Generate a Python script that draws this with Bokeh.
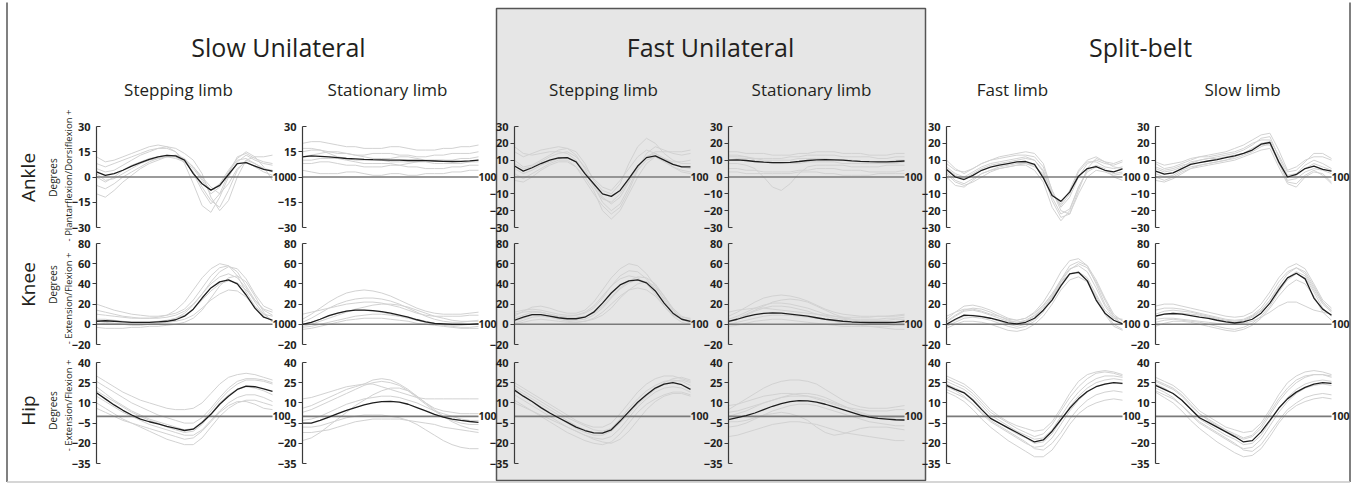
from bokeh.plotting import figure
from bokeh.models import Range1d, LinearAxis, FixedTicker, Label
from bokeh.core.properties import value
from bokeh.embed import file_html
from bokeh.resources import INLINE
import math

# ---------------- data ----------------
PCT = [0, 5, 10, 15, 20, 25, 30, 35, 40, 45, 50, 55, 60, 65, 70, 75, 80, 85, 90, 95, 100]
X_END_LABEL = "100"

GROUP_TITLES = ["Slow Unilateral", "Fast Unilateral", "Split-belt"]
LIMB_TITLES = ["Stepping limb", "Stationary limb", "Stepping limb", "Stationary limb", "Fast limb", "Slow limb"]
JOINTS = ["Ankle", "Knee", "Hip"]
JOINT_UNIT = "Degrees"
JOINT_SENSE = ["- Plantarflexion/Dorsiflexion +", "- Extension/Flexion +", "- Extension/Flexion +"]

ANKLE_TICKS_SLOW = [-30, -15, 0, 15, 30]
ANKLE_TICKS = [-30, -20, -10, 0, 10, 20, 30]
KNEE_TICKS = [-20, 0, 20, 40, 60, 80]
HIP_TICKS = [-35, -20, -5, 10, 25, 40]

# ---- Ankle ----
ANKLE_SLOW_STEP_MEAN = [3, 1, 2, 4, 6.5, 8.5, 10.5, 12, 12.8, 12.5, 10, 2, -4, -7.8, -5, 1.5, 8, 8.5, 6.5, 4.5, 3.5]
ANKLE_SLOW_STEP_TRIALS = [
    [8, 6, 8, 10, 12, 14, 16, 17, 17, 15, 10, 2, -8, -16, -10, 2, 12, 14, 11, 9, 8],
    [-5, -7, -4, 0, 3, 6, 9, 11, 12, 12, 9, 3, -6, -14, -18, -8, 4, 10, 8, 5, 3],
    [12, 9, 10, 12, 14, 16, 18, 19, 18, 15, 8, -4, -17, -21, -12, 0, 9, 13, 10, 8, 7],
    [2, -2, -1, 2, 5, 8, 10, 11, 12, 11, 9, 5, -2, -10, -6, 3, 10, 11, 8, 5, 4],
    [-10, -12, -8, -3, 1, 5, 8, 10, 12, 13, 11, 6, 0, -6, -10, -4, 5, 9, 6, 3, 1],
    [5, 3, 4, 7, 10, 13, 15, 17, 18, 17, 14, 10, 2, -12, -20, -14, 0, 10, 12, 12, 13],
    [0, -3, 0, 4, 7, 9, 11, 12, 13, 12, 10, 6, -1, -8, -4, 4, 11, 15, 12, 6, -2],
]
ANKLE_SLOW_STAT_MEAN = [12, 12.5, 12.3, 12, 11.5, 11, 10.8, 10.5, 10.3, 10.2, 10, 10, 9.8, 9.8, 9.7, 9.5, 9.3, 9.2, 9.3, 9.6, 10]
ANKLE_SLOW_STAT_TRIALS = [
    [20, 21, 21, 20, 19, 18, 18, 17, 17, 17, 18, 18, 17, 16, 16, 16, 17, 17, 18, 18, 19],
    [15, 16, 16, 15, 14, 14, 13, 13, 14, 14, 14, 13, 13, 12, 12, 13, 13, 14, 14, 14, 15],
    [8, 8, 9, 9, 8, 7, 7, 6, 6, 6, 7, 7, 6, 6, 5, 5, 5, 6, 6, 7, 7],
    [4, 3, 2, 2, 2, 3, 3, 2, 1, 1, 2, 2, 1, 1, 2, 2, 2, 3, 3, 4, 4],
    [12, 13, 14, 15, 15, 14, 13, 12, 11, 11, 11, 12, 12, 11, 10, 10, 10, 10, 11, 11, 12],
    [17, 17, 16, 14, 12, 11, 10, 10, 10, 10, 9, 9, 9, 9, 9, 8, 8, 8, 8, 9, 9],
    [10, 10, 11, 11, 11, 10, 9, 8, 8, 8, 8, 7, 8, 9, 10, 10, 10, 9, 9, 9, 10],
]
ANKLE_FAST_STEP_MEAN = [6.5, 3.5, 5.5, 8, 10, 11.3, 11.5, 9, 2, -4, -10, -11.5, -8, -1, 6.5, 11.5, 12.5, 10, 7.5, 6, 6]
ANKLE_FAST_STEP_TRIALS = [
    [15, 12, 14, 16, 17, 18, 17, 13, 5, -5, -15, -20, -16, -6, 5, 14, 18, 16, 14, 13, 14],
    [2, -1, 2, 5, 8, 10, 10, 6, -2, -10, -17, -22, -18, -8, 4, 10, 12, 9, 6, 4, 3],
    [10, 6, 7, 10, 13, 16, 17, 15, 8, -2, -8, -10, -4, 8, 18, 23, 20, 14, 10, 8, 8],
    [5, 2, 4, 7, 9, 11, 11, 9, 3, -4, -12, -16, -12, -3, 6, 12, 14, 11, 8, 6, 5],
    [18, 14, 13, 14, 15, 15, 14, 10, 3, -6, -13, -15, -10, -2, 6, 12, 15, 15, 15, 15, 16],
    [-2, -3, 0, 4, 7, 9, 9, 6, 0, -8, -20, -25, -20, -10, 0, 8, 12, 10, 6, 3, 2],
    [8, 5, 6, 9, 12, 14, 15, 12, 6, -1, -6, -8, -2, 5, 12, 16, 14, 11, 9, 9, 10],
]
ANKLE_FAST_STAT_MEAN = [10, 10.2, 9.8, 9.2, 8.8, 8.5, 8.5, 8.7, 9.2, 9.8, 10.2, 10.3, 10.2, 10, 9.6, 9.3, 9.1, 9, 9, 9.2, 9.5]
ANKLE_FAST_STAT_TRIALS = [
    [15, 15, 14, 14, 14, 13, 13, 13, 14, 14, 15, 15, 15, 14, 14, 14, 13, 13, 13, 14, 14],
    [12, 12, 12, 11, 11, 11, 11, 12, 12, 13, 13, 13, 13, 12, 12, 12, 12, 11, 11, 12, 12],
    [5, 5, 4, 4, 3, 3, 3, 3, 4, 4, 5, 5, 5, 4, 4, 4, 3, 3, 3, 3, 4],
    [8, 8, 7, 5, 0, -6, -8, -4, 2, 6, 7, 7, 7, 7, 6, 6, 6, 6, 7, 7, 7],
    [10, 11, 11, 11, 10, 10, 10, 10, 11, 11, 11, 11, 10, 10, 10, 9, 9, 9, 9, 10, 10],
    [13, 13, 12, 10, 9, 8, 8, 8, 8, 9, 9, 9, 9, 8, 8, 8, 8, 8, 8, 8, 9],
    [3, 3, 2, 2, 2, 2, 2, 2, 3, 3, 3, 2, 2, 1, 1, 1, 1, 2, 2, 2, 2],
]
ANKLE_SPLIT_FAST_MEAN = [4.5, 0, -1.5, 1, 4, 5.8, 7, 8, 9, 9.2, 7.5, -0.5, -11, -14.5, -9, 0.5, 5, 6.2, 4, 3, 4.8]
ANKLE_SPLIT_FAST_TRIALS = [
    [10, 5, 2, 5, 8, 10, 12, 13, 14, 15, 14, 8, -8, -18, -12, 0, 8, 10, 8, 7, 9],
    [0, -5, -6, -2, 2, 4, 5, 6, 7, 8, 6, 2, -14, -24, -22, -10, 0, 4, 3, 1, 2],
    [6, 2, 0, 3, 6, 8, 9, 10, 11, 12, 10, 4, -10, -17, -10, 3, 9, 9, 6, 5, 6],
    [3, -2, -4, -1, 2, 4, 6, 7, 8, 8, 7, 1, -12, -22, -19, -6, 3, 6, 4, 2, 3],
    [8, 4, 3, 5, 8, 10, 11, 12, 13, 13, 12, 6, -8, -20, -22, -8, 5, 11, 9, 8, 10],
    [2, -3, -5, -3, 0, 3, 5, 6, 7, 7, 4, -3, -18, -26, -20, -6, 4, 7, 5, 0, -2],
    [5, 1, -1, 2, 5, 7, 8, 9, 10, 11, 10, 3, -10, -16, -8, 4, 10, 12, 9, 6, 5],
]
ANKLE_SPLIT_SLOW_MEAN = [3.5, 1.7, 2.5, 5, 7.5, 8.5, 9.5, 10.3, 11.5, 12.5, 14, 16, 19.5, 20.5, 9, 0, 1.5, 5, 6.5, 4.5, 3.5]
ANKLE_SPLIT_SLOW_TRIALS = [
    [8, 5, 6, 8, 10, 12, 13, 14, 15, 17, 19, 22, 25, 26, 16, 4, 6, 10, 12, 12, 10],
    [-2, -3, -1, 2, 5, 6, 7, 8, 9, 10, 12, 14, 16, 17, 6, -4, -6, 0, 3, 2, -3],
    [5, 3, 4, 6, 9, 10, 11, 12, 13, 14, 16, 19, 23, 24, 12, 1, 2, 7, 10, 8, 5],
    [2, 0, 1, 4, 6, 7, 8, 9, 10, 11, 13, 15, 18, 20, 8, -2, -1, 3, 5, 4, 2],
    [9, 7, 8, 9, 11, 12, 12, 13, 14, 15, 17, 20, 22, 22, 13, 3, 4, 9, 14, 14, 11],
    [0, -2, 0, 3, 5, 7, 8, 9, 10, 12, 14, 17, 19, 19, 9, -3, -4, 1, 4, 1, -4],
    [6, 4, 5, 7, 8, 10, 11, 11, 12, 13, 14, 17, 20, 21, 10, 0, 1, 5, 8, 6, 4],
]

# ---- Knee ----
KNEE_SLOW_STEP_MEAN = [3, 3.5, 3, 2.5, 2, 2, 2, 2.5, 3, 4.5, 8, 15, 26, 36, 42, 44, 40, 29, 16, 7, 4]
KNEE_SLOW_STEP_TRIALS = [
    [20, 17, 14, 12, 10, 9, 8, 8, 9, 11, 15, 24, 36, 48, 56, 58, 52, 38, 24, 15, 12],
    [-3, -4, -4, -4, -3, -3, -2, -2, -1, 0, 2, 6, 14, 26, 38, 46, 48, 42, 28, 12, 2],
    [10, 9, 8, 7, 6, 6, 6, 7, 9, 14, 22, 34, 46, 55, 60, 58, 48, 32, 18, 10, 8],
    [5, 5, 4, 3, 2, 2, 2, 3, 4, 6, 9, 15, 24, 33, 40, 43, 41, 34, 24, 14, 9],
    [0, 1, 1, 0, 0, 0, 0, 1, 2, 3, 5, 9, 16, 24, 30, 34, 33, 27, 17, 8, 3],
    [14, 12, 10, 8, 7, 6, 6, 6, 7, 9, 13, 20, 30, 42, 52, 57, 55, 45, 30, 18, 14],
    [3, 2, 1, 0, -1, -1, 0, 1, 3, 6, 11, 19, 30, 40, 47, 50, 46, 36, 22, 10, 4],
]
KNEE_SLOW_STAT_MEAN = [0, 2, 5, 8.5, 11, 13, 14, 14, 13.5, 12.5, 11, 9, 7, 4.5, 2.5, 1, 0.5, 0, 0, 0, 0.5]
KNEE_SLOW_STAT_TRIALS = [
    [5, 10, 16, 22, 27, 31, 33, 34, 33, 31, 28, 24, 20, 16, 13, 11, 10, 10, 10, 11, 12],
    [-2, 0, 3, 6, 9, 12, 15, 17, 19, 20, 20, 19, 17, 14, 11, 8, 6, 4, 3, 3, 3],
    [2, 6, 11, 16, 20, 23, 25, 26, 26, 25, 23, 20, 16, 12, 8, 5, 3, 2, 2, 3, 4],
    [-5, -4, -2, 0, 2, 4, 5, 6, 6, 6, 5, 4, 3, 1, 0, -1, -2, -3, -4, -4, -4],
    [10, 12, 14, 16, 18, 20, 21, 22, 22, 21, 19, 17, 14, 11, 9, 8, 8, 8, 8, 9, 9],
    [0, 2, 5, 8, 11, 13, 14, 14, 13, 12, 10, 8, 6, 4, 2, 1, 0, -1, -1, 0, 1],
    [-3, -2, 0, 2, 4, 6, 8, 9, 10, 10, 9, 8, 7, 5, 3, 1, -1, -2, -3, -3, -2],
]
KNEE_FAST_STEP_MEAN = [4, 7, 9.5, 9.5, 8, 6.5, 5.5, 5.5, 7, 12, 21, 31, 39, 43, 44, 41, 33, 21, 11, 5, 3]
KNEE_FAST_STEP_TRIALS = [
    [8, 13, 17, 18, 16, 13, 11, 11, 14, 22, 34, 46, 55, 60, 58, 50, 38, 24, 12, 5, 3],
    [0, 2, 4, 5, 4, 3, 2, 2, 3, 6, 12, 20, 28, 34, 36, 34, 28, 18, 8, 2, 0],
    [12, 14, 15, 14, 12, 10, 9, 9, 11, 16, 26, 38, 48, 53, 52, 45, 34, 22, 12, 7, 6],
    [3, 6, 9, 9, 8, 6, 4, 4, 5, 9, 16, 26, 35, 41, 44, 42, 36, 26, 14, 6, 2],
    [6, 9, 12, 12, 10, 8, 7, 7, 8, 11, 18, 27, 36, 43, 47, 46, 40, 28, 16, 8, 5],
    [1, 4, 7, 8, 7, 5, 3, 2, 3, 5, 9, 16, 26, 34, 40, 42, 38, 28, 15, 5, 1],
    [10, 12, 13, 12, 10, 8, 8, 9, 12, 18, 28, 38, 45, 48, 46, 40, 30, 18, 9, 5, 4],
]
KNEE_FAST_STAT_MEAN = [3, 5, 7.5, 9.5, 10.8, 11.3, 11, 10, 9, 8, 6.5, 5, 4, 3, 2.3, 2, 1.8, 1.8, 1.8, 2, 3]
KNEE_FAST_STAT_TRIALS = [
    [8, 12, 17, 22, 26, 28, 29, 28, 26, 23, 19, 15, 12, 10, 9, 8, 8, 8, 8, 8, 9],
    [2, 5, 9, 13, 16, 18, 18, 17, 15, 13, 10, 8, 6, 5, 4, 4, 4, 4, 4, 5, 5],
    [-2, -1, 1, 3, 4, 5, 5, 4, 3, 2, 1, 0, -1, -2, -2, -2, -2, -2, -2, -1, -1],
    [5, 8, 12, 16, 19, 21, 21, 20, 18, 16, 13, 10, 8, 6, 5, 5, 5, 5, 6, 6, 7],
    [0, 2, 4, 6, 8, 9, 9, 9, 8, 7, 6, 5, 3, 1, 0, -1, -2, -3, -4, -5, -5],
    [12, 14, 15, 16, 16, 15, 14, 13, 12, 11, 10, 9, 8, 7, 7, 7, 7, 8, 8, 9, 10],
    [3, 6, 10, 14, 18, 22, 24, 25, 24, 22, 18, 14, 10, 7, 5, 3, 2, 2, 2, 2, 3],
]
KNEE_SPLIT_FAST_MEAN = [0, 5, 9, 8.5, 7.5, 6, 4, 1.5, 0.5, 2, 6, 14, 24, 38, 50, 51.5, 43, 24, 11, 4, 0.5]
KNEE_SPLIT_FAST_TRIALS = [
    [5, 12, 18, 19, 17, 14, 10, 6, 4, 6, 12, 22, 36, 52, 63, 65, 58, 40, 20, 8, 4],
    [-4, 0, 3, 3, 2, 0, -3, -6, -7, -5, 0, 8, 20, 34, 44, 47, 42, 28, 12, 0, -5],
    [2, 8, 13, 14, 12, 9, 6, 3, 2, 4, 9, 18, 30, 44, 55, 58, 52, 36, 18, 6, 1],
    [0, 4, 8, 9, 8, 6, 3, 0, -2, 0, 5, 14, 27, 42, 54, 60, 56, 42, 24, 8, 0],
    [8, 12, 15, 15, 13, 10, 8, 5, 4, 6, 11, 19, 30, 42, 50, 52, 46, 30, 14, 6, 5],
    [-2, 2, 6, 7, 6, 4, 1, -2, -4, -2, 3, 12, 26, 40, 50, 52, 44, 26, 10, -2, -6],
    [3, 9, 14, 16, 15, 12, 8, 4, 2, 3, 8, 16, 28, 44, 58, 62, 58, 44, 26, 10, 3],
]
KNEE_SPLIT_SLOW_MEAN = [8, 10, 10.7, 10, 8.5, 7, 5.8, 4, 2.5, 1.3, 2.5, 5, 11, 21, 34, 46, 50.5, 45, 26, 15, 9]
KNEE_SPLIT_SLOW_TRIALS = [
    [18, 20, 20, 18, 16, 14, 12, 10, 8, 7, 8, 12, 20, 32, 46, 56, 60, 55, 40, 24, 16],
    [2, 4, 5, 4, 3, 2, 0, -2, -4, -5, -3, 1, 8, 18, 32, 44, 50, 46, 32, 16, 8],
    [10, 13, 14, 13, 12, 10, 8, 6, 4, 3, 4, 8, 14, 24, 36, 46, 52, 48, 34, 20, 12],
    [5, 6, 6, 5, 4, 3, 2, 1, 0, 0, 1, 3, 7, 12, 18, 22, 22, 18, 14, 12, 10],
    [14, 16, 16, 15, 13, 11, 9, 7, 5, 4, 5, 9, 16, 28, 42, 52, 56, 50, 36, 22, 14],
    [-2, 1, 3, 3, 2, 0, -2, -4, -6, -7, -5, -1, 6, 16, 28, 38, 44, 40, 28, 12, 4],
    [8, 10, 11, 11, 10, 9, 7, 5, 3, 2, 3, 7, 13, 24, 38, 50, 56, 52, 38, 22, 13],
]

# ---- Hip ----
HIP_SLOW_STEP_MEAN = [17.5, 13, 8.5, 4.5, 1, -2, -4, -5.5, -7.5, -9, -10.5, -9.5, -4.5, 1.5, 9, 15, 20, 22.5, 22, 20.5, 18.5]
HIP_SLOW_STEP_TRIALS = [
    [30, 26, 22, 18, 15, 12, 10, 8, 6, 5, 5, 6, 10, 17, 24, 29, 31, 32, 31, 29, 27],
    [10, 6, 2, -2, -5, -8, -11, -14, -17, -19, -21, -21, -16, -8, 0, 6, 10, 12, 12, 10, 8],
    [22, 17, 12, 8, 4, 1, -2, -4, -6, -8, -10, -9, -4, 4, 12, 19, 24, 27, 27, 26, 24],
    [15, 11, 7, 3, 0, -3, -6, -8, -10, -12, -14, -14, -10, -3, 4, 10, 14, 16, 16, 14, 11],
    [26, 22, 18, 14, 10, 7, 4, 1, -1, -3, -5, -5, -1, 6, 14, 21, 26, 28, 28, 27, 25],
    [6, 3, 0, -3, -5, -7, -9, -11, -13, -15, -17, -16, -11, -4, 3, 8, 11, 11, 9, 6, 5],
    [19, 15, 11, 7, 3, 0, -3, -5, -8, -10, -12, -11, -6, 2, 10, 16, 20, 22, 21, 19, 16],
]
HIP_SLOW_STAT_MEAN = [-5, -5, -3, -0.5, 2, 4.5, 6.5, 8.5, 10, 11, 11.2, 10.5, 9, 6.5, 4, 1.5, -0.5, -2, -3, -3.8, -4.5]
HIP_SLOW_STAT_TRIALS = [
    [13, 14, 16, 18, 20, 22, 23, 24, 24, 22, 20, 18, 16, 14, 13, 13, 13, 13, 13, 13, 13],
    [-18, -16, -12, -7, -2, 3, 8, 12, 16, 19, 21, 21, 19, 15, 10, 5, 0, -4, -7, -9, -10],
    [3, 5, 8, 11, 14, 17, 20, 23, 25, 26, 25, 23, 19, 14, 9, 4, 0, -3, -5, -6, -6],
    [-8, -8, -7, -5, -3, -1, 0, 1, 1, 1, 0, -1, -3, -6, -10, -14, -18, -21, -23, -24, -24],
    [-3, -2, 0, 3, 6, 9, 11, 13, 14, 15, 15, 14, 12, 10, 7, 4, 2, 0, -2, -3, -3],
    [-12, -12, -11, -10, -8, -6, -4, -3, -2, -2, -2, -2, -3, -4, -5, -6, -8, -9, -10, -11, -12],
    [6, 8, 11, 14, 17, 20, 22, 24, 27, 28, 27, 24, 20, 15, 10, 6, 4, 3, 2, 2, 2],
]
HIP_FAST_STEP_MEAN = [19.5, 15, 11, 6.5, 2.5, -1, -4.5, -8, -10.5, -12.2, -12.5, -10, -3.5, 3.5, 10.5, 16, 21, 24, 25, 23.5, 20]
HIP_FAST_STEP_TRIALS = [
    [25, 21, 17, 13, 9, 5, 1, -3, -6, -8, -8, -5, 2, 10, 18, 24, 28, 30, 30, 28, 26],
    [12, 8, 4, 0, -4, -8, -12, -15, -18, -20, -21, -19, -13, -5, 3, 9, 13, 16, 18, 18, 16],
    [21, 17, 13, 9, 5, 1, -3, -7, -10, -12, -12, -9, -2, 6, 13, 19, 23, 26, 27, 26, 23],
    [16, 12, 8, 4, 0, -4, -8, -11, -14, -16, -17, -15, -9, -1, 7, 13, 18, 21, 22, 21, 18],
    [23, 19, 15, 11, 7, 3, -1, -4, -7, -10, -11, -9, -4, 3, 10, 16, 21, 25, 28, 29, 27],
    [10, 7, 4, 1, -2, -5, -8, -11, -14, -17, -19, -20, -17, -11, -3, 5, 11, 15, 17, 17, 15],
    [19, 15, 11, 7, 3, -1, -5, -9, -12, -14, -14, -11, -5, 2, 9, 15, 20, 24, 26, 27, 25],
]
HIP_FAST_STAT_MEAN = [-2.5, -1, 0.5, 2.5, 5, 7.5, 9.5, 11, 11.7, 11.5, 10.5, 9, 7, 5, 3, 1, -0.5, -1.5, -2, -2.5, -2.7]
HIP_FAST_STAT_TRIALS = [
    [5, 9, 13, 17, 21, 24, 26, 27, 27, 26, 24, 20, 16, 12, 9, 7, 6, 6, 6, 7, 8],
    [-15, -14, -12, -10, -8, -6, -5, -4, -4, -5, -6, -8, -10, -12, -13, -14, -15, -16, -17, -18, -18],
    [0, 2, 4, 7, 10, 12, 14, 15, 15, 15, 14, 12, 10, 8, 5, 3, 1, 0, -1, -1, -1],
    [-8, -7, -5, -2, 1, 4, 6, 8, 9, 9, 8, 6, 4, 2, 0, -2, -4, -5, -6, -7, -7],
    [3, 4, 6, 8, 10, 12, 14, 16, 17, 17, 16, 14, 11, 8, 5, 2, 0, -1, -2, -3, -3],
    [-4, -4, -3, -1, 1, 2, 3, 2, 0, -3, -8, -12, -14, -13, -11, -9, -8, -8, -8, -9, -10],
    [8, 9, 11, 13, 15, 16, 17, 17, 16, 15, 13, 11, 9, 7, 6, 5, 4, 4, 4, 5, 5],
]
HIP_SPLIT_FAST_MEAN = [23, 20, 17.5, 12, 5, -1.5, -5, -8.5, -12, -15.5, -19, -17.5, -11, -2.5, 6, 13, 18.5, 22, 24, 25, 24.5]
HIP_SPLIT_FAST_TRIALS = [
    [30, 27, 24, 19, 12, 5, 0, -4, -7, -9, -11, -10, -4, 6, 17, 26, 31, 33, 34, 33, 31],
    [18, 15, 11, 5, -2, -8, -13, -18, -22, -26, -30, -30, -25, -16, -6, 2, 7, 10, 12, 13, 12],
    [26, 23, 20, 15, 8, 1, -3, -7, -11, -14, -17, -16, -10, 0, 10, 18, 24, 28, 30, 30, 29],
    [22, 19, 15, 9, 2, -4, -8, -12, -16, -20, -23, -22, -16, -6, 4, 12, 18, 22, 24, 25, 24],
    [28, 25, 22, 17, 10, 3, -1, -5, -9, -12, -15, -13, -6, 4, 14, 22, 28, 32, 33, 32, 30],
    [20, 17, 14, 9, 3, -3, -7, -11, -15, -19, -24, -25, -20, -12, -2, 6, 12, 16, 18, 19, 18],
    [24, 21, 18, 13, 6, -1, -5, -9, -13, -16, -20, -19, -13, -3, 7, 15, 21, 25, 27, 28, 27],
]
HIP_SPLIT_SLOW_MEAN = [23, 20, 17, 12, 5.5, -1, -4.5, -8, -11.5, -15, -19, -18, -11.5, -3, 6, 13, 18, 21.5, 24, 25, 24.5]
HIP_SPLIT_SLOW_TRIALS = [
    [29, 26, 23, 18, 11, 4, 0, -4, -8, -10, -12, -11, -5, 5, 16, 25, 30, 33, 34, 33, 31],
    [18, 14, 10, 4, -3, -9, -14, -19, -23, -27, -30, -29, -24, -15, -5, 3, 8, 11, 13, 14, 13],
    [27, 24, 21, 16, 9, 2, -3, -7, -11, -14, -17, -15, -9, 1, 11, 19, 25, 29, 31, 31, 30],
    [21, 18, 14, 8, 1, -5, -9, -13, -17, -21, -24, -23, -17, -7, 3, 11, 17, 21, 23, 24, 23],
    [26, 23, 20, 15, 8, 2, -2, -6, -10, -13, -16, -14, -7, 3, 13, 21, 27, 30, 31, 31, 29],
    [19, 16, 13, 8, 2, -4, -8, -12, -16, -20, -25, -26, -21, -12, -3, 5, 10, 14, 16, 17, 16],
    [24, 21, 17, 12, 5, -2, -6, -10, -14, -17, -21, -20, -14, -4, 6, 14, 20, 24, 26, 27, 26],
]

# ---------------- layout (screen pixels) ----------------
W, H = 1357, 483
AXIS_X = [96, 302, 514, 728, 946, 1155]     # left edge (0 %) of each column
PANEL_W = 176                                # width of 0..100 %
ROW_SPANS = [(30, -30, 126, 227), (80, -20, 243, 344), (40, -35, 362, 463)]  # (top value, bottom value, top px, bottom px)

TEXT = "#231f20"
AXIS_COLOR = "#3a3a3a"
TRIAL_COLOR = "#d2d2d2"
MEAN_COLOR = "#1e1e1e"
ZERO_COLOR = "#7a7a7a"
FONT = "Open Sans"
TICK_FS = "11px"
END_FS = "10.5px"

p = figure(width=W, height=H, x_range=Range1d(0, W), y_range=Range1d(H, 0),
           x_axis_type=None, y_axis_type=None, output_backend="svg",
           toolbar_location=None, min_border=0)
p.outline_line_color = None
p.grid.visible = False
p.background_fill_color = "white"
p.border_fill_color = "white"

# grey box for the "Fast Unilateral" group and outer frame lines
p.quad(left=[496], right=[925], top=[8], bottom=[480], fill_color="#e6e6e6",
       line_color="#555555", line_width=1.5)
p.segment(x0=[6.5, 1349.5, 6.5], y0=[2, 2, 481.5], x1=[6.5, 1349.5, 1349.5], y1=[481.5, 481.5, 481.5],
          line_color=["#3c3c3c", "#3c3c3c", "#c8c8c8"], line_width=1.3)

# panel ranges
for c, ax0 in enumerate(AXIS_X):
    k = 100.0 / PANEL_W
    p.extra_x_ranges[f"x{c}"] = Range1d(-ax0 * k, (W - ax0) * k)
for r, (vt, vb, yt, yb) in enumerate(ROW_SPANS):
    k = (vt - vb) / float(yb - yt)
    p.extra_y_ranges[f"y{r}"] = Range1d(vt - (H - yt) * k, vt + yt * k)

PANELS = [
    [(ANKLE_SLOW_STEP_MEAN, ANKLE_SLOW_STEP_TRIALS), (ANKLE_SLOW_STAT_MEAN, ANKLE_SLOW_STAT_TRIALS),
     (ANKLE_FAST_STEP_MEAN, ANKLE_FAST_STEP_TRIALS), (ANKLE_FAST_STAT_MEAN, ANKLE_FAST_STAT_TRIALS),
     (ANKLE_SPLIT_FAST_MEAN, ANKLE_SPLIT_FAST_TRIALS), (ANKLE_SPLIT_SLOW_MEAN, ANKLE_SPLIT_SLOW_TRIALS)],
    [(KNEE_SLOW_STEP_MEAN, KNEE_SLOW_STEP_TRIALS), (KNEE_SLOW_STAT_MEAN, KNEE_SLOW_STAT_TRIALS),
     (KNEE_FAST_STEP_MEAN, KNEE_FAST_STEP_TRIALS), (KNEE_FAST_STAT_MEAN, KNEE_FAST_STAT_TRIALS),
     (KNEE_SPLIT_FAST_MEAN, KNEE_SPLIT_FAST_TRIALS), (KNEE_SPLIT_SLOW_MEAN, KNEE_SPLIT_SLOW_TRIALS)],
    [(HIP_SLOW_STEP_MEAN, HIP_SLOW_STEP_TRIALS), (HIP_SLOW_STAT_MEAN, HIP_SLOW_STAT_TRIALS),
     (HIP_FAST_STEP_MEAN, HIP_FAST_STEP_TRIALS), (HIP_FAST_STAT_MEAN, HIP_FAST_STAT_TRIALS),
     (HIP_SPLIT_FAST_MEAN, HIP_SPLIT_FAST_TRIALS), (HIP_SPLIT_SLOW_MEAN, HIP_SPLIT_SLOW_TRIALS)],
]

def ticks_for(r, c):
    if r == 0:
        return ANKLE_TICKS_SLOW if c < 2 else ANKLE_TICKS
    return KNEE_TICKS if r == 1 else HIP_TICKS

def make_axis(xn, yn, ticks, bounds, tick_out, tick_in, labels, line):
    ax = LinearAxis(x_range_name=xn, y_range_name=yn, fixed_location=0,
                    ticker=FixedTicker(ticks=ticks), bounds=bounds)
    ax.axis_line_color = AXIS_COLOR if line else None
    ax.axis_line_width = 1.2
    ax.major_tick_line_color = AXIS_COLOR
    ax.major_tick_line_width = 1.1
    ax.major_tick_out = tick_out
    ax.major_tick_in = tick_in
    ax.minor_tick_out = 0
    ax.minor_tick_in = 0
    ax.major_label_standoff = 6
    ax.major_label_text_font = FONT
    ax.major_label_text_font_size = TICK_FS
    ax.major_label_text_font_style = "bold"
    ax.major_label_text_color = TEXT if labels else None
    p.add_layout(ax, "left")

for r in range(3):
    vt, vb, _, _ = ROW_SPANS[r]
    for c in range(6):
        mean, trials = PANELS[r][c]
        xn, yn = f"x{c}", f"y{r}"
        p.multi_line(xs=[PCT] * len(trials), ys=trials, line_color=TRIAL_COLOR, line_width=1,
                     x_range_name=xn, y_range_name=yn)
        p.line(x=[PCT[0], PCT[-1]], y=[0, 0], line_color=ZERO_COLOR, line_width=1.6,
               x_range_name=xn, y_range_name=yn)
        p.line(x=PCT, y=mean, line_color=MEAN_COLOR, line_width=1.3,
               x_range_name=xn, y_range_name=yn)
        ticks = ticks_for(r, c)
        # axis line + tick labels
        make_axis(xn, yn, ticks, (vb, vt), 0, 0, True, True)
        # inner ticks: outward; end ticks: inward
        make_axis(xn, yn, [t for t in ticks if t not in (vb, vt)], (vb, vt), 4, 0, False, False)
        make_axis(xn, yn, [vb, vt], (vb, vt), 0, 4, False, False)
        p.add_layout(Label(x=PCT[-1], y=0, x_range_name=xn, y_range_name=yn, text=X_END_LABEL,
                           x_offset=0, text_baseline="middle", text_align="left",
                           text_font=FONT, text_font_size=END_FS, text_font_style="bold",
                           text_color=TEXT))

# titles
p.text(x=[278, 710, 1140], y=[46, 46, 46], text=GROUP_TITLES, text_font=value(FONT),
       text_font_size="25px", text_align="center", text_baseline="middle", text_color=TEXT)
p.text(x=[178, 387, 603, 811, 1012, 1242], y=[89] * 6, text=LIMB_TITLES, text_font=value(FONT),
       text_font_size="17px", text_align="center", text_baseline="middle", text_color=TEXT)

# row labels (rotated)
p.text(x=[27, 27, 27], y=[177, 284, 410], text=JOINTS, angle=math.pi / 2, text_font=value(FONT),
       text_font_size="19px", text_align="center", text_baseline="middle", text_color=TEXT)
p.text(x=[52, 52, 52], y=[177, 284, 410], text=[JOINT_UNIT] * 3, angle=math.pi / 2, text_font=value(FONT),
       text_font_size="10px", text_align="center", text_baseline="middle", text_color=TEXT)
p.text(x=[68, 68, 68], y=[175, 298, 405], text=JOINT_SENSE, angle=math.pi / 2, text_font=value(FONT),
       text_font_size="9.5px", text_align="center", text_baseline="middle", text_color=TEXT)

open("out.html", "w").write(file_html(p, INLINE))
